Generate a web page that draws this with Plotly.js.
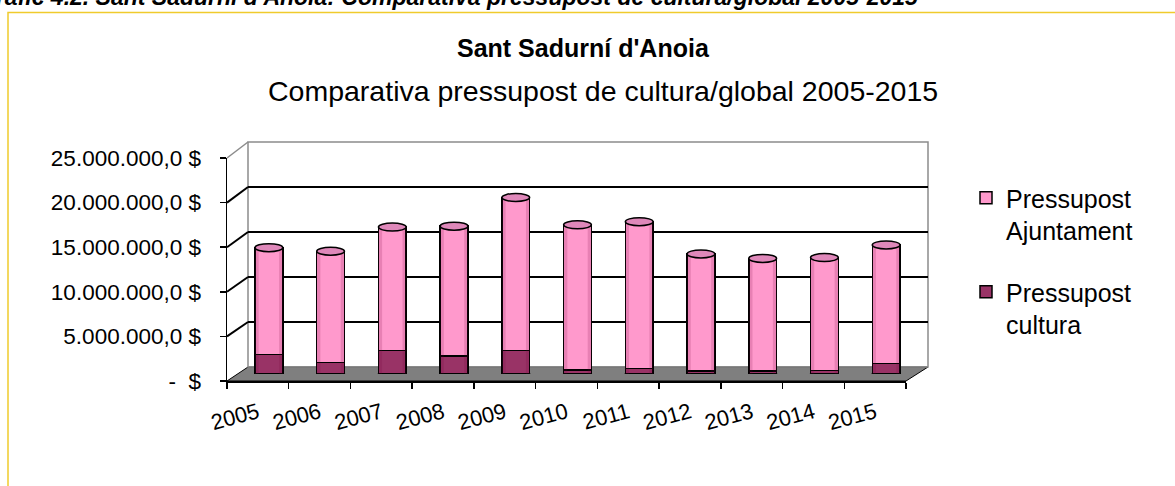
<!DOCTYPE html>
<html>
<head>
<meta charset="utf-8">
<script src="https://cdn.plot.ly/plotly-3.0.1.min.js"></script>
<style>html,body{margin:0;padding:0;background:#fff;}#chart{width:1175px;height:486px;}</style>
</head>
<body>
<div id="chart"></div>
<script>
// ---- data ----
const years = ['2005','2006','2007','2008','2009','2010','2011','2012','2013','2014','2015'];
const pressupostCultura = [2200000, 1300000, 2600000, 2000000, 2600000, 450000, 600000, 350000, 350000, 400000, 1150000];
const pressupostAjuntament = [11900000, 12400000, 13800000, 14500000, 17100000, 16200000, 16400000, 13050000, 12550000, 12600000, 13250000];
const tickVals = [0, 5000000, 10000000, 15000000, 20000000, 25000000];
const tickText = ['-  $', '5.000.000,0 $', '10.000.000,0 $', '15.000.000,0 $', '20.000.000,0 $', '25.000.000,0 $'];
const seriesNames = ['Pressupost<br>cultura', 'Pressupost<br>Ajuntament'];

// ---- geometry (pixels) ----
const W = 1175, H = 486;
const FRONT = {x0: 227, x1: 906, yb: 381, yt: 158};
const BACK  = {x0: 248, x1: 928, yb: 367, yt: 142};
const MID = {x0: (FRONT.x0 + BACK.x0) / 2 + 0.5, x1: (FRONT.x1 + BACK.x1) / 2, yb: (FRONT.yb + BACK.yb) / 2, yt: (FRONT.yt + BACK.yt) / 2};
const px = x => x / W;
const py = y => 1 - y / H;
const ymax = tickVals[tickVals.length - 1];
const yFront = v => FRONT.yb - v / ymax * (FRONT.yb - FRONT.yt);
const yBack = v => BACK.yb - v / ymax * (BACK.yb - BACK.yt);

const idx = years.map((_, i) => i);
const totals = pressupostCultura.map((c, i) => c + pressupostAjuntament[i]);

const traces = [
  {x: [0], y: [0], xaxis: 'x', yaxis: 'y', type: 'scatter', mode: 'markers', marker: {opacity: 0}, showlegend: false, hoverinfo: 'skip'},
  {x: years, y: years.map(() => null), xaxis: 'x2', yaxis: 'y2', type: 'scatter', mode: 'markers', marker: {opacity: 0}, showlegend: false, hoverinfo: 'skip'},
  {x: idx, y: pressupostCultura, name: seriesNames[0], type: 'bar', xaxis: 'x3', yaxis: 'y3',
   legendgroup: 'c', legendrank: 2, marker: {color: '#993366', line: {color: '#000', width: 1.5}}},
  {x: idx, y: pressupostAjuntament, name: seriesNames[1], type: 'bar', xaxis: 'x3', yaxis: 'y3',
   legendgroup: 'a', legendrank: 1, marker: {color: '#FF99CC', line: {color: '#000', width: 1.5}}}
];

const barHalf = 0.225;
const shapes = [];
shapes.push({type: 'path', xref: 'paper', yref: 'paper', layer: 'below',
  path: `M ${px(FRONT.x0)},${py(FRONT.yb)} L ${px(FRONT.x1)},${py(FRONT.yb)} L ${px(BACK.x1)},${py(BACK.yb)} L ${px(BACK.x0)},${py(BACK.yb)} Z`,
  fillcolor: '#7f7f7f', line: {color: '#000', width: 1}});
shapes.push({type: 'rect', xref: 'paper', yref: 'paper', layer: 'below',
  x0: px(BACK.x0), x1: px(BACK.x1), y0: py(BACK.yb), y1: py(BACK.yt), line: {color: '#8c8c8c', width: 1.5}});
shapes.push({type: 'line', xref: 'paper', yref: 'paper', layer: 'below',
  x0: px(FRONT.x0), y0: py(yFront(ymax)), x1: px(BACK.x0), y1: py(yBack(ymax)), line: {color: '#8c8c8c', width: 1.5}});
tickVals.filter(v => v > 0 && v < ymax).forEach(v => {
  shapes.push({type: 'line', xref: 'paper', yref: 'paper', layer: 'below',
    x0: px(FRONT.x0), y0: py(yFront(v)), x1: px(BACK.x0), y1: py(yBack(v)), line: {color: '#000', width: 2}});
});
// cylinder bottoms
idx.forEach(i => {
  shapes.push({type: 'circle', xref: 'x3', yref: 'y3', layer: 'below', ysizemode: 'pixel', yanchor: 0,
    x0: i - barHalf, x1: i + barHalf, y0: -4, y1: 4, fillcolor: '#993366', line: {color: '#000', width: 1.5}});
});
// cylinder side shading (edge strips)
const strip = 0.06;
idx.forEach(i => {
  [[i - barHalf, i - barHalf + strip], [i + barHalf - strip, i + barHalf]].forEach(([a, b]) => {
    shapes.push({type: 'rect', xref: 'x3', yref: 'y3', layer: 'above', x0: a, x1: b, y0: 0, y1: totals[i],
      fillcolor: 'rgba(110,0,55,0.16)', line: {width: 0}});
  });
});
// cylinder tops
idx.forEach(i => {
  shapes.push({type: 'circle', xref: 'x3', yref: 'y3', layer: 'above', ysizemode: 'pixel', yanchor: totals[i],
    x0: i - barHalf, x1: i + barHalf, y0: -4, y1: 4, fillcolor: '#DF88BA', line: {color: '#000', width: 1.5}});
});
shapes.push({type: 'rect', xref: 'paper', yref: 'paper', layer: 'above',
  x0: px(8), x1: 1.02, y0: -0.02, y1: py(12.5), line: {color: '#F0CB2C', width: 1.5}});

const annotations = [
  {text: "<b><i>Gràfic 4.2. Sant Sadurní d'Anoia: Comparativa pressupost de cultura/global 2005-2015</i></b>",
   xref: 'paper', yref: 'paper', x: px(921), xanchor: 'right', y: py(12.5), yanchor: 'bottom', showarrow: false,
   font: {size: 23, color: '#000'}},
  {text: "<b>Sant Sadurní d'Anoia</b>", xref: 'paper', yref: 'paper', x: px(583.5), xanchor: 'center',
   y: py(48), yanchor: 'middle', showarrow: false, font: {size: 25, color: '#000'}},
  {text: 'Comparativa pressupost de cultura/global 2005-2015', xref: 'paper', yref: 'paper', x: px(602.5), xanchor: 'center',
   y: py(91), yanchor: 'middle', showarrow: false, font: {size: 28.5, color: '#000'}}
];

const layout = {
  width: W, height: H,
  margin: {l: 0, r: 0, t: 0, b: 0},
  paper_bgcolor: '#fff', plot_bgcolor: 'rgba(0,0,0,0)',
  font: {family: 'Liberation Sans, Arial, sans-serif', color: '#000'},
  barmode: 'stack', bargap: 0.55,
  showlegend: true,
  legend: {x: px(966), xanchor: 'left', y: py(175), yanchor: 'top', traceorder: 'grouped', tracegroupgap: 26,
           valign: 'top', font: {size: 25, color: '#000'}, bgcolor: 'rgba(0,0,0,0)'},
  xaxis: {domain: [px(BACK.x0), px(BACK.x1)], anchor: 'y', range: [0, 1], showgrid: false, zeroline: false,
          showticklabels: false, ticks: '', showline: false, fixedrange: true},
  yaxis: {domain: [py(BACK.yb), py(BACK.yt)], anchor: 'x', range: [0, ymax], tickmode: 'array',
          tickvals: tickVals.filter(v => v > 0 && v < ymax), showgrid: true, gridcolor: '#000', gridwidth: 2,
          zeroline: false, showticklabels: false, ticks: '', showline: false, fixedrange: true},
  xaxis2: {domain: [px(FRONT.x0), px(FRONT.x1)], anchor: 'y2', type: 'category', categoryarray: years,
           range: [-0.5, years.length - 0.5], showgrid: false, zeroline: false, showline: true, linecolor: '#000', linewidth: 1.5,
           ticks: 'outside', tickson: 'boundaries', ticklen: 6, tickcolor: '#000', tickwidth: 1.5, ticklabelstandoff: 9,
           tickangle: -15, tickfont: {size: 22, color: '#000'}, fixedrange: true},
  yaxis2: {domain: [py(FRONT.yb), py(FRONT.yt)], anchor: 'x2', range: [0, ymax], tickmode: 'array',
           tickvals: tickVals, ticktext: tickText, showgrid: false, zeroline: false, showline: true, linecolor: '#000', linewidth: 1.5,
           ticks: 'outside', ticklen: 6, tickcolor: '#000', tickwidth: 1.5, ticklabelstandoff: 14,
           tickfont: {size: 22.5, color: '#000'}, fixedrange: true},
  xaxis3: {domain: [px(MID.x0), px(MID.x1)], anchor: 'y3', range: [-0.5, years.length - 0.5], visible: false, fixedrange: true},
  yaxis3: {domain: [py(MID.yb), py(MID.yt)], anchor: 'x3', range: [0, ymax], visible: false, fixedrange: true},
  shapes: shapes,
  annotations: annotations
};

Plotly.newPlot('chart', traces, layout, {displayModeBar: false, staticPlot: true});
</script>
</body>
</html>
